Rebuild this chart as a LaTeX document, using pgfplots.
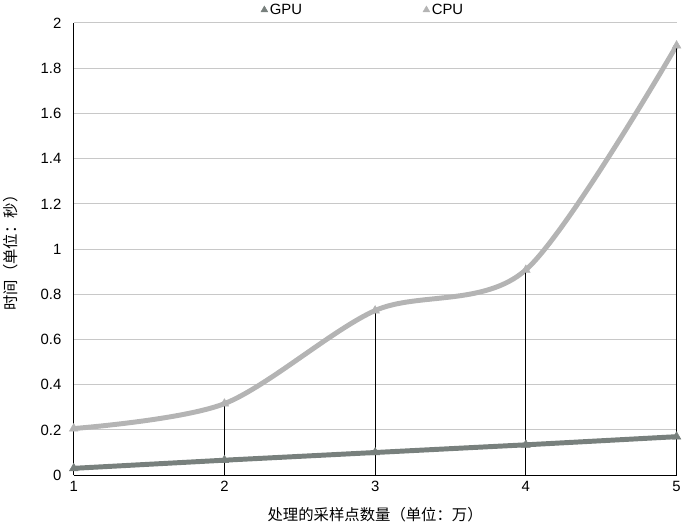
\documentclass[border=0pt]{standalone}
\usepackage{fontspec}
\setmainfont{Liberation Sans}
\newfontfamily\cjk{Noto Sans CJK SC}
\usepackage{pgfplots}
\pgfplotsset{compat=1.18}

\definecolor{gpu}{RGB}{120,128,125}
\definecolor{cpu}{RGB}{180,180,180}
\definecolor{gridc}{RGB}{200,200,200}

\begin{document}
\begin{tikzpicture}[font=\fontsize{15}{17}\selectfont]
\begin{axis}[
  width=608pt, height=456pt, scale only axis,
  xmin=1, xmax=5, ymin=0, ymax=2,
  xtick={1,2,3,4,5},
  ytick={0,0.2,...,2.01},
  axis x line=bottom, axis y line=left,
  axis line style={-, black, line width=1pt},
  major tick length=0pt,
  ymajorgrids, grid style={gridc, line width=1pt},
  /pgf/number format/assume math mode=true,
  yticklabel style={xshift=-9pt},
  xticklabel style={yshift=-3pt},
  xlabel={\cjk\fontsize{15.5}{17}\selectfont 处理的采样点数量（单位：万）},
  ylabel={\cjk\fontsize{15.5}{17}\selectfont 时间（单位：秒）},
  xlabel style={yshift=-8pt},
  ylabel style={yshift=16pt},
  clip=false,
  legend columns=2,
  legend style={draw=none, fill=none, at={(0.48,1.0)}, anchor=south, yshift=3pt,
    /tikz/every even column/.append style={column sep=120pt}},
  legend cell align=left,
]
\addlegendimage{gpu, only marks, mark=triangle*, mark size=4pt}
\addlegendentry{GPU}
\addlegendimage{cpu, only marks, mark=triangle*, mark size=4pt}
\addlegendentry{CPU}
\addplot[gpu, line width=5pt, mark=triangle*, mark size=5pt, mark options={line width=0.5pt}, forget plot]
  coordinates {(1,0.030) (2,0.066) (3,0.100) (4,0.134) (5,0.170)};
\addplot[cpu, line width=5pt, smooth, mark=triangle*, mark size=5pt, mark options={line width=0.5pt}, forget plot]
  coordinates {(1,0.206) (2,0.316) (3,0.728) (4,0.908) (5,1.900)};
\addplot[black, line width=1pt, ycomb, forget plot]
  coordinates {(2,0.316) (3,0.728) (4,0.908) (5,1.900)};
\end{axis}
\end{tikzpicture}
\end{document}
